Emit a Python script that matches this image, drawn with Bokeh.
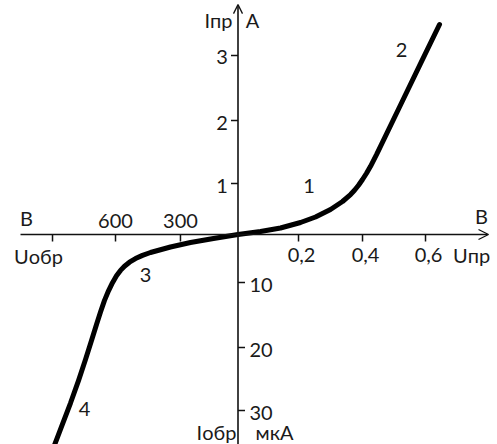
import numpy as np
from bokeh.plotting import figure
from bokeh.models import Range1d, Arrow, OpenHead
from bokeh.core.properties import value
from bokeh.embed import file_html
from bokeh.resources import INLINE

# ---- data ----
# forward branch: voltage (V) and current (A)
fwd_u = [0, 0.0744, 0.1405, 0.2063, 0.2531, 0.300, 0.3375, 0.3625, 0.375, 0.3875, 0.400,
         0.4127, 0.4254, 0.4444, 0.5206, 0.5841, 0.6444]
fwd_i = [0, 0.0588, 0.1275, 0.2353, 0.3431, 0.4902, 0.6471, 0.7843, 0.8686, 0.9667, 1.0635,
         1.1627, 1.2730, 1.4587, 2.2385, 2.8738, 3.4769]
# reverse branch: voltage (V) and current (uA)
rev_u = [0, 127.8, 247.8, 346.2, 438.5, 475.4, 507.7, 535.4, 558.5, 576.9, 595.4, 614.3,
         633.3, 652.4, 671.4, 690.5, 714.3, 742.9, 776.2, 814.3, 857.1, 890.5]
rev_i = [0, 0.83, 1.67, 2.60, 3.75, 4.35, 5.02, 5.77, 6.60, 7.48, 8.60, 10.02,
         11.28, 12.75, 14.54, 16.46, 18.92, 21.90, 25.24, 28.81, 32.54, 35.48]

fwd_u_ticks = [0.2, 0.4, 0.6]
fwd_u_labels = ["0,2", "0,4", "0,6"]
rev_u_ticks = [300, 600, 900]
rev_u_labels = ["300", "600", ""]
fwd_i_ticks = [1, 2, 3]
fwd_i_labels = ["1", "2", "3"]
rev_i_ticks = [10, 20, 30]
rev_i_labels = ["10", "20", "30"]

branch_labels = ["1", "2", "3", "4"]
branch_u = [0.233, 0.524, 461.5, 748]     # V (fwd, fwd, rev, rev)
branch_i = [0.951, 3.085, 8.54, 29.7]     # A, A, uA, uA

# ---- schematic axis calibration (drawing units of the sketch) ----
FWD_U_CAL = ([0, 0.2, 0.4, 0.6], [0, 0.953, 1.961, 2.953])
REV_U_CAL = ([0, 300, 600, 900], [0, 0.906, 1.929, 2.921])
FWD_I_CAL = ([0, 1, 2, 3], [0, 0.803, 1.795, 2.819])
REV_I_CAL = ([0, 10, 20, 30], [0, 0.756, 1.780, 2.772])
PX = 63.5  # pixels per drawing unit


def cal(v, c, sign=1.0):
    xs, ys = np.asarray(c[0], float), np.asarray(c[1], float)
    v = np.asarray(v, float)
    out = np.interp(v, xs, ys)
    slope = (ys[-1] - ys[-2]) / (xs[-1] - xs[-2])
    out = np.where(v > xs[-1], ys[-1] + (v - xs[-1]) * slope, out)
    return sign * out


W, H = 497, 444
x0_px, y0_px = 237.5, 234.0   # origin inside canvas
p = figure(width=W, height=H, output_backend="svg", toolbar_location=None,
           x_range=Range1d(-x0_px / PX, (W - x0_px) / PX),
           y_range=Range1d(-(H - y0_px) / PX, y0_px / PX),
           min_border=0, border_fill_color="white", background_fill_color="white")
p.axis.visible = False
p.grid.visible = False
p.outline_line_color = None

AX = "#111111"
TXT = "#1a1a1a"
FONT = value("Lato")
FS = "20px"

# axes with arrows
p.add_layout(Arrow(end=OpenHead(size=10, line_width=1.3, line_color=AX),
                   x_start=-3.425, y_start=0, x_end=3.945, y_end=0,
                   line_width=1.6, line_color=AX))
p.add_layout(Arrow(end=OpenHead(size=9, line_width=1.3, line_color=AX),
                   x_start=0, y_start=-3.4, x_end=0, y_end=3.62,
                   line_width=1.6, line_color=AX))

t = 7 / PX
# x ticks (downward)
xt = np.concatenate([cal(fwd_u_ticks, FWD_U_CAL), cal(rev_u_ticks, REV_U_CAL, -1)])
p.segment(x0=xt, y0=np.zeros_like(xt), x1=xt, y1=-t * np.ones_like(xt), line_color=AX, line_width=1.5)
# y ticks: forward to the left, reverse to the right
yf = cal(fwd_i_ticks, FWD_I_CAL)
p.segment(x0=np.zeros_like(yf), y0=yf, x1=-t * np.ones_like(yf), y1=yf, line_color=AX, line_width=1.5)
yr = cal(rev_i_ticks, REV_I_CAL, -1)
p.segment(x0=np.zeros_like(yr), y0=yr, x1=t * np.ones_like(yr), y1=yr, line_color=AX, line_width=1.5)

# curve
cx = np.concatenate([cal(rev_u, REV_U_CAL, -1)[::-1], cal(fwd_u, FWD_U_CAL)[1:]])
cy = np.concatenate([cal(rev_i, REV_I_CAL, -1)[::-1], cal(fwd_i, FWD_I_CAL)[1:]])
p.line(cx, cy, line_color="black", line_width=5, line_join="round", line_cap="round")

txt = dict(text_align="center", text_baseline="middle", text_font=FONT,
           text_font_size=FS, text_color=TXT)
# tick labels
p.text(x=cal(fwd_u_ticks, FWD_U_CAL), y=[0] * 3, text=fwd_u_labels, x_offset=3, y_offset=20, **txt)
p.text(x=cal(rev_u_ticks, REV_U_CAL, -1), y=[0] * 3, text=rev_u_labels, y_offset=-14, **txt)
p.text(x=[0] * 3, y=cal(fwd_i_ticks, FWD_I_CAL), text=fwd_i_labels, x_offset=-16, y_offset=2, **txt)
p.text(x=[0] * 3, y=cal(rev_i_ticks, REV_I_CAL, -1), text=rev_i_labels, x_offset=23, y_offset=2, **txt)

# branch numbers
bx = np.concatenate([cal(branch_u[:2], FWD_U_CAL), cal(branch_u[2:], REV_U_CAL, -1)])
by = np.concatenate([cal(branch_i[:2], FWD_I_CAL), cal(branch_i[2:], REV_I_CAL, -1)])
p.text(x=bx, y=by, text=branch_labels, **txt)


def d(px, py):
    return (px - x0_px) / PX, (y0_px - py) / PX


names = [("Iпр", 218, 19), ("А", 252, 19), ("В", 26, 217), ("Uобр", 38, 255),
         ("В", 481, 215), ("Uпр", 471, 254), ("Iобр", 216, 431), ("мкА", 274, 431)]
p.text(x=[d(a, b)[0] for _, a, b in names], y=[d(a, b)[1] for _, a, b in names],
       text=[n for n, _, _ in names], **txt)

open("out.html", "w").write(file_html(p, INLINE))
